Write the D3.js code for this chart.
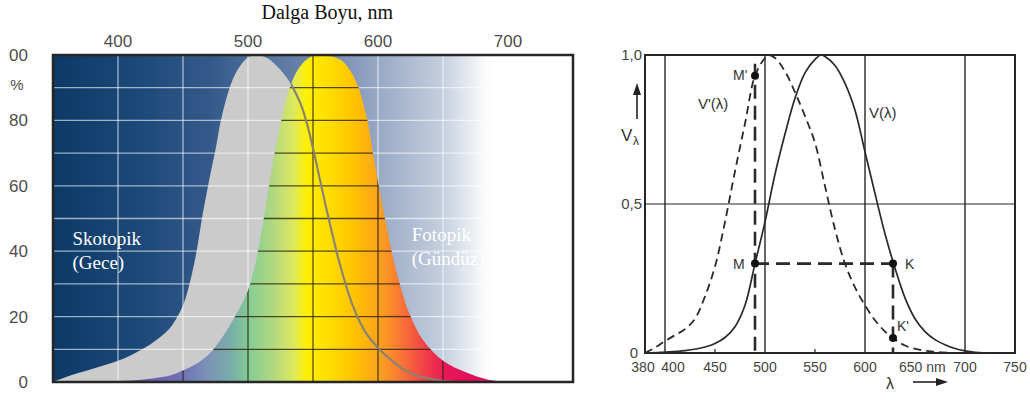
<!DOCTYPE html>
<html><head><meta charset="utf-8">
<script src="https://cdn.jsdelivr.net/npm/d3@7"></script>
<style>
html,body{margin:0;padding:0;background:#fff;}
svg{display:block;}
</style>
</head><body>
<svg id="chart" width="1030" height="400"></svg>
<script>
// ---------- LEFT CHART DATA ----------
const leftTitle = "Dalga Boyu, nm";
const leftXTicks = [400, 500, 600, 700];
const leftXGrid = [400, 450, 500, 550, 600, 650];
const leftYTicks = [0, 20, 40, 60, 80, 100];
const leftYLabels = ["0", "20", "40", "60", "80", "100"];
const leftYGrid = [10, 20, 30, 40, 50, 60, 70, 80, 90];
const scotNm  = [350,360,370,380,390,400,410,420,430,440,450,455,460,465,470,475,480,490,500,508,515,520,530,540,545,550,555,560,565,570,580,590,600,610,620,630,640,650,660];
const scotPct = [0,1.5,2.8,4,5.2,6.5,8.2,10.3,13,16.5,23.5,30,39,51,61.5,71,81.5,94,99.2,100,99,97.5,93,85.5,79.5,71.5,62.5,53.5,45,37,24,15.5,10.5,6.8,3.8,2,1,0.3,0];
const photNm  = [350,380,400,420,440,450,460,470,480,490,500,505,510,515,520,525,530,535,540,548,555,565,573,583,591,597,601,606,614,624,635,650,668,684,700];
const photPct = [0,0.1,0.3,0.8,2,3.5,5.5,8.5,13.5,20,28,35,45,57,69,79,87.5,93,96.5,99.4,100,99.5,98,92,81.5,68,59,48.6,34,21,12.6,6.5,2.9,0.8,0];
const bgStopNm    = [350,420,470,500,540,580,610,640,650,665,675,682,688,750];
const bgStopColor = ["#0c3966","#1d4a7a","#33598a","#496b97","#6781a8","#8598ba","#a1b1ca","#bcc7d9","#c5cfde","#dfe4ec","#eef1f5","#fafbfc","#ffffff","#ffffff"];
const specStopNm    = [380,420,450,468,488,501,519,535,545,560,581,602,622,638,653,673,700];
const specStopColor = ["#6a4fa8","#6a5aa8","#6f72b8","#7a90b8","#79b0a8","#85cc95","#b0d880","#dde860","#fff000","#ffe000","#ffc400","#fca020","#f86a3a","#f03a4a","#e81558","#e0105a","#d81060"];
const scotLabel = ["Skotopik", "(Gece)"];
const photLabel = ["Fotopik", "(Gündüz)"];

// ---------- RIGHT CHART DATA ----------
const rightXTicks  = [380,400,450,500,550,600,650,700,750];
const rightXLabels = ["380","400","450","500","550","600","650 nm","700","750"];
const rightVLines  = [400,500,600,700];
const rightYTicks  = [0, 0.5, 1.0];
const rightYLabels = ["0","0,5","1,0"];
const vNm  = [380,400,420,440,450,460,470,480,490,500,510,520,530,540,550,556,560,570,580,590,600,610,620,630,640,650,660,670,680,690,700,710,720];
const vVal = [0,0.003,0.008,0.02,0.032,0.052,0.088,0.16,0.30,0.44,0.60,0.735,0.855,0.94,0.985,1.0,0.995,0.965,0.905,0.815,0.675,0.535,0.40,0.285,0.185,0.115,0.072,0.045,0.028,0.015,0.007,0.002,0];
const vpNm  = [380,390,400,410,420,430,440,450,460,470,480,490,500,504,510,520,530,540,550,560,570,580,590,600,610,620,628,640,656,670,686];
const vpVal = [0,0.018,0.04,0.06,0.08,0.115,0.19,0.29,0.44,0.61,0.77,0.93,0.99,1.0,0.99,0.945,0.875,0.795,0.705,0.56,0.415,0.30,0.22,0.16,0.11,0.072,0.05,0.025,0.01,0.004,0];
const pointNames = ["M'", "M", "K", "K'"];
const pointNm    = [490, 490, 628, 628];
const pointVal   = [0.93, 0.30, 0.30, 0.05];

// ---------- DRAW ----------
const svg = d3.select("#chart");
const defs = svg.append("defs");
const smooth = d3.curveCatmullRom.alpha(0.5);

// Left scales
const xL = d3.scaleLinear().domain([350, 750]).range([53, 573]);
const yL = d3.scaleLinear().domain([0, 100]).range([382, 55]);

function addGradient(id, nms, cols) {
  const g = defs.append("linearGradient").attr("id", id)
    .attr("gradientUnits", "userSpaceOnUse")
    .attr("x1", xL(350)).attr("x2", xL(750)).attr("y1", 0).attr("y2", 0);
  nms.forEach((n, i) => g.append("stop")
    .attr("offset", (xL(n) - xL(350)) / (xL(750) - xL(350)))
    .attr("stop-color", cols[i]));
}
addGradient("bgGrad", bgStopNm, bgStopColor);
addGradient("specGrad", specStopNm, specStopColor);

const scotData = scotNm.map((n, i) => ({x: n, y: scotPct[i]}));
const photData = photNm.map((n, i) => ({x: n, y: photPct[i]}));
const areaL = d3.area().x(d => xL(d.x)).y0(yL(0)).y1(d => yL(d.y)).curve(smooth);
const lineL = d3.line().x(d => xL(d.x)).y(d => yL(d.y)).curve(smooth);

defs.append("clipPath").attr("id", "photClip").append("path").attr("d", areaL(photData));
defs.append("clipPath").attr("id", "plotClipL").append("rect")
  .attr("x", xL(350)).attr("y", yL(100)).attr("width", xL(750) - xL(350)).attr("height", yL(0) - yL(100));

const gL = svg.append("g").attr("clip-path", "url(#plotClipL)");
gL.append("rect").attr("x", xL(350)).attr("y", yL(100))
  .attr("width", xL(750) - xL(350)).attr("height", yL(0) - yL(100))
  .attr("fill", "url(#bgGrad)");
gL.append("path").attr("d", areaL(scotData)).attr("fill", "#cbcbcb");

function drawGrid(g, color, width) {
  g.selectAll(null).data(leftXGrid).enter().append("line")
    .attr("x1", d => xL(d)).attr("x2", d => xL(d))
    .attr("y1", yL(0)).attr("y2", yL(100))
    .attr("stroke", color).attr("stroke-width", width);
  g.selectAll(null).data(leftYGrid).enter().append("line")
    .attr("x1", xL(350)).attr("x2", xL(750))
    .attr("y1", d => yL(d)).attr("y2", d => yL(d))
    .attr("stroke", color).attr("stroke-width", width);
}
drawGrid(gL.append("g"), "rgba(255,255,255,0.6)", 1.3);

gL.append("path").attr("d", areaL(photData)).attr("fill", "url(#specGrad)");
const gDark = gL.append("g").attr("clip-path", "url(#photClip)");
drawGrid(gDark, "rgba(45,35,10,0.8)", 1.3);
gDark.append("path").attr("d", lineL(scotData)).attr("fill", "none")
  .attr("stroke", "#8c8270").attr("stroke-width", 2.2);

// labels inside
const serif = "'Liberation Serif','DejaVu Serif',serif";
const sans = "'Liberation Sans',Arial,sans-serif";
gL.append("text").attr("x", xL(365)).attr("y", yL(42)).attr("font-family", serif)
  .attr("font-size", 19).attr("fill", "#fff")
  .selectAll("tspan").data(scotLabel).enter().append("tspan")
  .attr("x", xL(365)).attr("dy", (d, i) => i ? 24 : 0).text(d => d);
gL.append("text").attr("x", xL(626)).attr("y", yL(43)).attr("font-family", serif)
  .attr("font-size", 19).attr("fill", "#fff")
  .selectAll("tspan").data(photLabel).enter().append("tspan")
  .attr("x", xL(626)).attr("dy", (d, i) => i ? 24 : 0).text(d => d);

// frame
svg.append("rect").attr("x", xL(350)).attr("y", yL(100))
  .attr("width", xL(750) - xL(350)).attr("height", yL(0) - yL(100))
  .attr("fill", "none").attr("stroke", "#262626").attr("stroke-width", 2.5);

// top axis labels
svg.append("g").selectAll("text").data(leftXTicks).enter().append("text")
  .attr("x", d => xL(d)).attr("y", 47).attr("text-anchor", "middle")
  .attr("font-family", sans).attr("font-size", 17).attr("fill", "#4d4d4d")
  .text(d => d);
svg.append("text").attr("x", xL(561)).attr("y", 19).attr("text-anchor", "middle")
  .attr("font-family", serif).attr("font-size", 20).attr("fill", "#111").text(leftTitle);

// left y labels (clipped at left as in the reference)
defs.append("clipPath").attr("id", "yLabClip").append("rect")
  .attr("x", 9).attr("y", 0).attr("width", 40).attr("height", 400);
const yLab = svg.append("g").attr("clip-path", "url(#yLabClip)");
yLab.selectAll("text").data(leftYTicks).enter().append("text")
  .attr("x", 28).attr("y", d => yL(d) + 6).attr("text-anchor", "end")
  .attr("font-family", sans).attr("font-size", 17).attr("fill", "#4d4d4d")
  .text((d, i) => leftYLabels[i]);
svg.append("text").attr("x", 17).attr("y", yL(91) + 6).attr("text-anchor", "middle")
  .attr("font-family", sans).attr("font-size", 15).attr("fill", "#4d4d4d").text("%");

// ---------- RIGHT CHART ----------
const xR = d3.scaleLinear().domain([380, 750]).range([645, 1015]);
const yR = d3.scaleLinear().domain([0, 1]).range([353, 55]);
const gR = svg.append("g");
const ink = "#262626";

gR.selectAll(null).data(rightVLines).enter().append("line")
  .attr("x1", d => xR(d)).attr("x2", d => xR(d)).attr("y1", yR(0)).attr("y2", yR(1))
  .attr("stroke", ink).attr("stroke-width", 1.4);
gR.append("line").attr("x1", xR(380)).attr("x2", xR(750)).attr("y1", yR(0.5)).attr("y2", yR(0.5))
  .attr("stroke", ink).attr("stroke-width", 1.1);
gR.append("rect").attr("x", xR(380)).attr("y", yR(1))
  .attr("width", xR(750) - xR(380)).attr("height", yR(0) - yR(1))
  .attr("fill", "none").attr("stroke", ink).attr("stroke-width", 2);
gR.selectAll(null).data([450, 550]).enter().append("line")
  .attr("x1", d => xR(d)).attr("x2", d => xR(d)).attr("y1", yR(0)).attr("y2", yR(0) - 4)
  .attr("stroke", ink).attr("stroke-width", 1.2);

const vData = vNm.map((n, i) => ({x: n, y: vVal[i]}));
const vpData = vpNm.map((n, i) => ({x: n, y: vpVal[i]}));
const lineR = d3.line().x(d => xR(d.x)).y(d => yR(Math.max(0, d.y))).curve(smooth);
gR.append("path").attr("d", lineR(vData)).attr("fill", "none")
  .attr("stroke", "#2a2a2a").attr("stroke-width", 1.7);
gR.append("path").attr("d", lineR(vpData)).attr("fill", "none")
  .attr("stroke", "#2a2a2a").attr("stroke-width", 1.8).attr("stroke-dasharray", "8,5");

// construction lines
const P = pointNames.map((n, i) => ({name: n, x: pointNm[i], y: pointVal[i]}));
const dashStyle = s => s.attr("stroke", "#2a2a2a").attr("stroke-width", 2.6).attr("stroke-dasharray", "14,7").attr("fill", "none");
gR.append("line").attr("x1", xR(P[0].x)).attr("x2", xR(P[0].x))
  .attr("y1", yR(P[0].y) - 12).attr("y2", yR(0)).call(dashStyle);
gR.append("line").attr("x1", xR(P[1].x)).attr("x2", xR(P[2].x))
  .attr("y1", yR(P[1].y)).attr("y2", yR(P[2].y)).call(dashStyle);
gR.append("line").attr("x1", xR(P[2].x)).attr("x2", xR(P[2].x))
  .attr("y1", yR(P[2].y)).attr("y2", yR(0)).call(dashStyle);

gR.selectAll("circle").data(P).enter().append("circle")
  .attr("cx", d => xR(d.x)).attr("cy", d => yR(d.y)).attr("r", 4).attr("fill", "#111");
const labOff = {"M'": [-22, 4], "M": [-22, 5], "K": [12, 5], "K'": [4, -7]};
gR.selectAll(".pl").data(P).enter().append("text")
  .attr("x", d => xR(d.x) + labOff[d.name][0]).attr("y", d => yR(d.y) + labOff[d.name][1])
  .attr("font-family", sans).attr("font-size", 14).attr("fill", "#333").text(d => d.name);

gR.append("text").attr("x", xR(433)).attr("y", yR(0.82)).attr("font-family", sans)
  .attr("font-size", 15).attr("fill", "#333").text("V'(λ)");
gR.append("text").attr("x", xR(604)).attr("y", yR(0.79)).attr("font-family", sans)
  .attr("font-size", 15).attr("fill", "#333").text("V(λ)");

// axis labels
gR.selectAll(".xl").data(rightXTicks).enter().append("text")
  .attr("x", d => d === 650 ? xR(d) - 16 : xR(d) + (d === 400 ? 8 : 0) + (d === 380 ? -2 : 0))
  .attr("y", 372).attr("text-anchor", d => d === 650 ? "start" : "middle")
  .attr("font-family", sans).attr("font-size", 14).attr("fill", "#444")
  .text((d, i) => rightXLabels[i]);
gR.selectAll(".yl").data(rightYTicks).enter().append("text")
  .attr("x", d => d === 0 ? 638 : 642).attr("y", d => yR(d) + 5).attr("text-anchor", "end")
  .attr("font-family", sans).attr("font-size", 15).attr("fill", "#444")
  .text((d, i) => rightYLabels[i]);

// V_lambda label and arrows
gR.append("text").attr("x", 621).attr("y", 141).attr("font-family", sans)
  .attr("font-size", 17).attr("fill", "#333").text("V");
gR.append("text").attr("x", 633).attr("y", 145).attr("font-family", sans)
  .attr("font-size", 12).attr("fill", "#333").text("λ");
gR.append("line").attr("x1", 637).attr("x2", 637).attr("y1", 119).attr("y2", 92)
  .attr("stroke", "#222").attr("stroke-width", 1.6);
gR.append("path").attr("d", "M637,83 L633,95 L641,95 Z").attr("fill", "#222");
gR.append("text").attr("x", 890).attr("y", 389).attr("text-anchor", "middle")
  .attr("font-family", sans).attr("font-size", 16).attr("fill", "#333").text("λ");
gR.append("line").attr("x1", 913).attr("x2", 938).attr("y1", 382).attr("y2", 382)
  .attr("stroke", "#222").attr("stroke-width", 1.6);
gR.append("path").attr("d", "M948,382 L936,378 L936,386 Z").attr("fill", "#222");
</script>
</body></html>
